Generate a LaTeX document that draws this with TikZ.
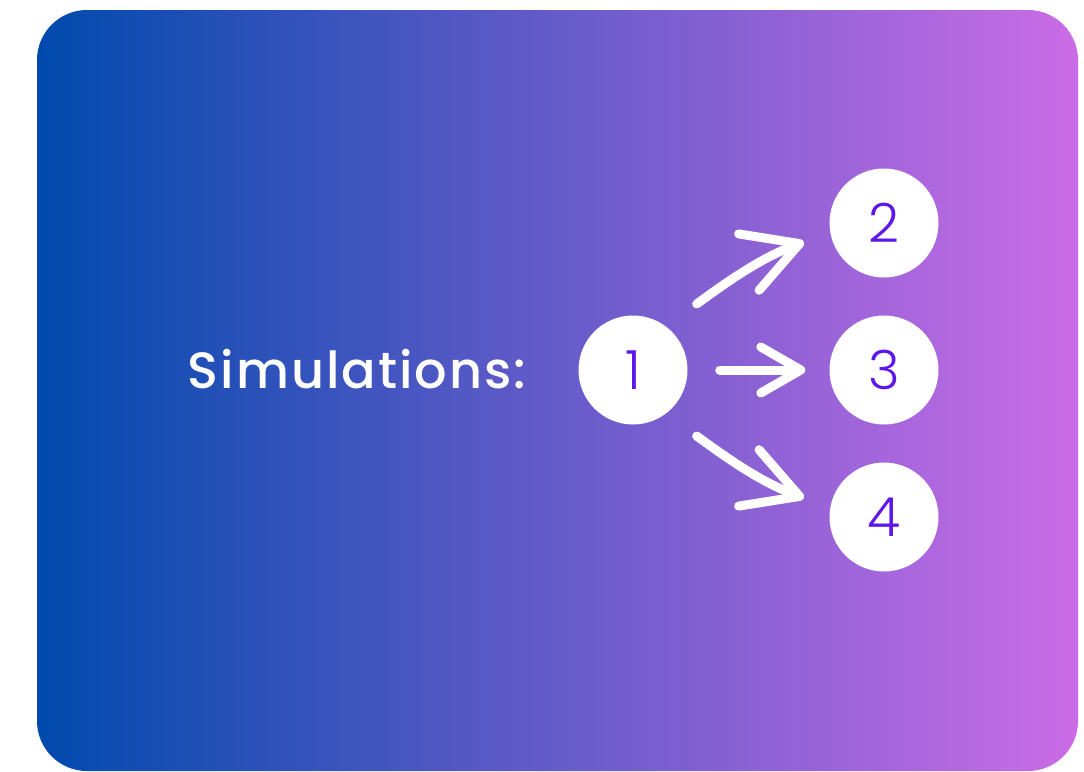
\documentclass[tikz,border=0pt]{standalone}
\usepackage{fontspec}
\setmainfont{Poppins}
\newfontfamily\titlefont{Poppins Medium}[LetterSpace=4]
\newfontfamily\numfont{Poppins Light}
\usetikzlibrary{arrows.meta}
\definecolor{gleft}{HTML}{004AAD}
\definecolor{gright}{HTML}{CB6CE6}
\definecolor{numcol}{HTML}{5E17EB}
\newcommand\dgt[1]{\raisebox{-4pt}{#1}}
\tikzset{
  numnode/.style={circle, fill=white, minimum size=109pt, inner sep=0pt, text=numcol, font=\numfont\fontsize{54}{54}\selectfont},
  arr/.style={draw=white, line width=9pt, line cap=round},
  smallhead/.style={-{Straight Barb[round, length=40pt, width=46pt]}},
  bighead/.style={-{Straight Barb[round, length=54pt, width=60pt]}},
}
\begin{document}
\begin{tikzpicture}[x=1pt, y=-1pt]
\useasboundingbox (0,0) rectangle (1084,771);
\shade[left color=gleft, right color=gright, rounded corners=50pt] (37,10) rectangle (1078,771);
\node[text=white, font=\titlefont\fontsize{51}{51}\selectfont, anchor=center] (title) at (357,369) {Simulations:};
\node[numnode] (n1) at (633,370) {\dgt{1}};
\node[numnode] (n2) at (884,223) {\dgt{2}};
\node[numnode] (n3) at (884,370) {\dgt{3}};
\node[numnode] (n4) at (884,517) {\dgt{4}};
\draw[arr, smallhead, shorten <=32pt, shorten >=24pt] (n1) -- (n3);
\draw[arr, bighead, shorten <=38pt, shorten >=28pt] (n1.53) to[out=36, in=200] (n2.190);
\draw[arr, bighead, shorten <=38pt, shorten >=28pt] (n1.-53) to[out=-36, in=160] (n4.170);
\end{tikzpicture}
\end{document}
